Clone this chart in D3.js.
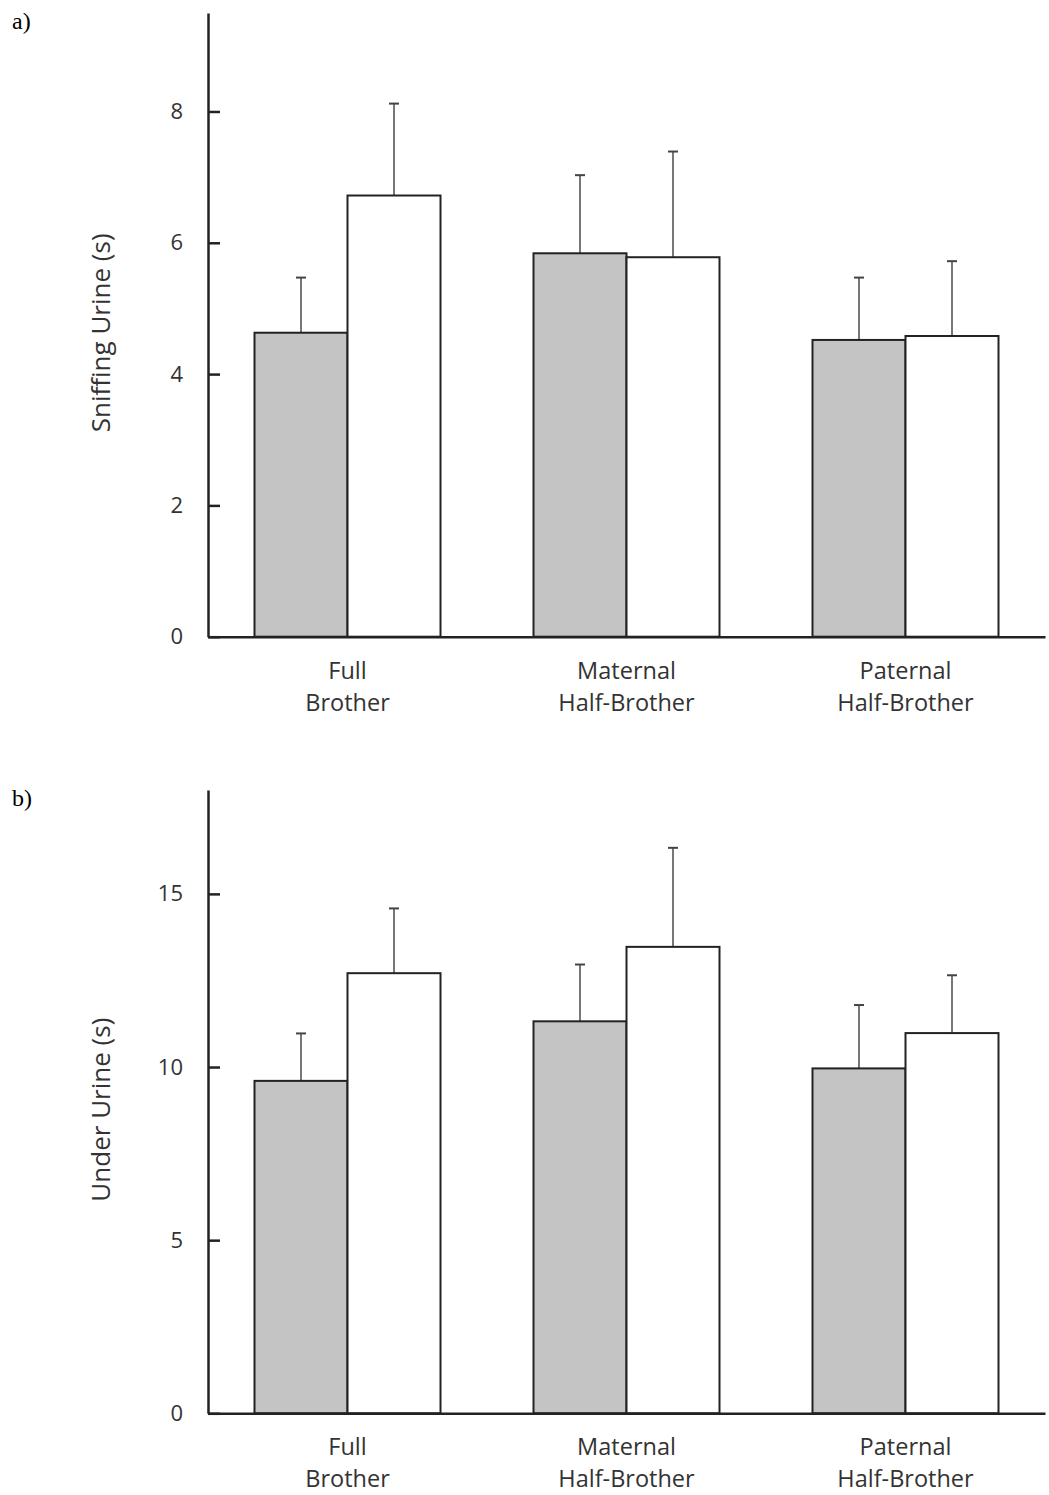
<!DOCTYPE html>
<html>
<head>
<meta charset="utf-8">
<script src="https://cdn.jsdelivr.net/npm/d3@7"></script>
<style>
  body { margin: 0; background: #fff; }
  svg { display: block; }
  .tick text { font-family: "Open Sans", sans-serif; font-size: 22px; fill: #333; }
</style>
</head>
<body>
<svg id="chart" width="1049" height="1495"></svg>
<script>
// Kin categories on the x axis (two text lines each)
const categories = ["Full|Brother", "Maternal|Half-Brother", "Paternal|Half-Brother"];
const groups = ["gray", "white"];

// Panel a: time sniffing urine (s), mean and mean + SE
const sniffMean = [[4.63, 6.72], [5.84, 5.78], [4.52, 4.58]];
const sniffUpper = [[5.47, 8.12], [7.03, 7.39], [5.47, 5.72]];
const sniffTicks = [0, 2, 4, 6, 8];

// Panel b: time under urine (s), mean and mean + SE
const underMean = [[9.60, 12.71], [11.32, 13.47], [9.96, 10.98]];
const underUpper = [[10.97, 14.58], [12.96, 16.33], [11.79, 12.65]];
const underTicks = [0, 5, 10, 15];

const svg = d3.select("#chart");
const fills = { gray: "#c4c4c4", white: "#ffffff" };

function panel(opts) {
  const { letter, top, bottom, yMax, ticks, mean, upper, title } = opts;
  const left = 208, right = 1045;

  const x = d3.scaleBand().domain(categories).range([left, right]).padding(0);
  const xInner = d3.scaleBand().domain(groups).range([0, x.bandwidth() * 2 / 3]).padding(0);
  const y = d3.scaleLinear().domain([0, yMax]).range([bottom, top]);

  const g = svg.append("g");

  // panel letter
  g.append("text")
    .attr("x", 12).attr("y", top + 16)
    .attr("font-family", "'Liberation Serif', 'Times New Roman', serif")
    .attr("font-size", 24).attr("fill", "#000")
    .text(letter);

  // bars
  categories.forEach((c, i) => {
    const x0 = x(c) + x.bandwidth() / 6;
    groups.forEach((s, j) => {
      const bx = x0 + xInner(s);
      const cx = bx + xInner.bandwidth() / 2;
      // error bar (upper only)
      g.append("line")
        .attr("x1", cx).attr("x2", cx)
        .attr("y1", y(mean[i][j])).attr("y2", y(upper[i][j]))
        .attr("stroke", "#555").attr("stroke-width", 1.6);
      g.append("line")
        .attr("x1", cx - 5).attr("x2", cx + 5)
        .attr("y1", y(upper[i][j])).attr("y2", y(upper[i][j]))
        .attr("stroke", "#444").attr("stroke-width", 2);
      g.append("rect")
        .attr("x", bx).attr("y", y(mean[i][j]))
        .attr("width", xInner.bandwidth())
        .attr("height", y(0) - y(mean[i][j]))
        .attr("fill", fills[s])
        .attr("stroke", "#222").attr("stroke-width", 2);
    });
  });

  // y axis with ticks pointing into the plot
  const yAxis = d3.axisLeft(y).tickValues(ticks).tickFormat(d3.format("d"))
    .tickSizeInner(-12).tickSizeOuter(0).tickPadding(25);
  const ya = g.append("g").attr("transform", `translate(${left},0)`).call(yAxis);
  ya.select(".domain").attr("stroke", "#222").attr("stroke-width", 2.5);
  ya.selectAll(".tick line").attr("stroke", "#222").attr("stroke-width", 2.5);
  ya.selectAll(".tick text").attr("fill", "#333");

  // x axis baseline
  const xAxis = d3.axisBottom(x).tickSize(0).tickFormat("");
  const xa = g.append("g").attr("transform", `translate(0,${bottom})`).call(xAxis);
  xa.select(".domain").attr("stroke", "#222").attr("stroke-width", 2.5);

  // category labels (two lines)
  categories.forEach(c => {
    const lines = c.split("|");
    const t = g.append("text")
      .attr("text-anchor", "middle")
      .attr("font-family", "'Open Sans', sans-serif")
      .attr("font-size", 23.5).attr("fill", "#333");
    lines.forEach((ln, k) => {
      t.append("tspan").attr("x", x(c) + x.bandwidth() / 2)
        .attr("y", bottom + 42 + k * 32).text(ln);
    });
  });

  // y axis title
  g.append("text")
    .attr("transform", `translate(110,${(top + bottom) / 2 + 8}) rotate(-90)`)
    .attr("text-anchor", "middle")
    .attr("font-family", "'Open Sans', sans-serif")
    .attr("font-size", 26).attr("fill", "#333")
    .text(title);
}

panel({ letter: "a)", top: 13, bottom: 636.7, yMax: 9.5, ticks: sniffTicks,
        mean: sniffMean, upper: sniffUpper, title: "Sniffing Urine (s)" });
panel({ letter: "b)", top: 790, bottom: 1413.3, yMax: 18, ticks: underTicks,
        mean: underMean, upper: underUpper, title: "Under Urine (s)" });
</script>
</body>
</html>
